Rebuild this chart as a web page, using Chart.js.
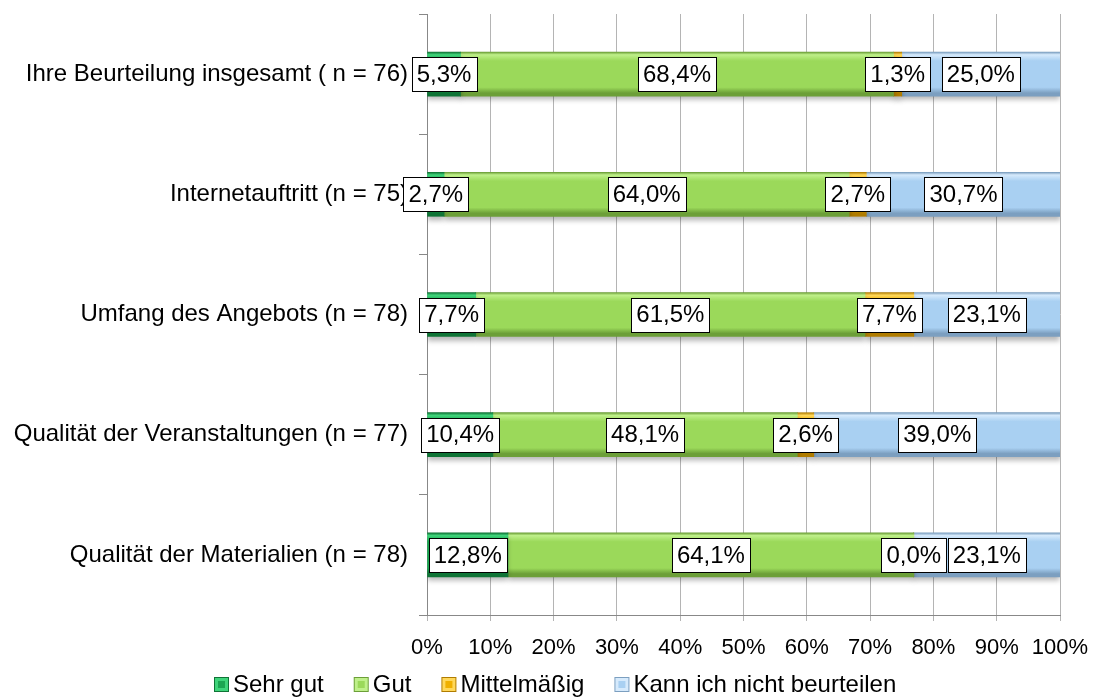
<!DOCTYPE html>
<html>
<head>
<meta charset="utf-8">
<script src="https://cdn.jsdelivr.net/npm/chart.js@4"></script>
<style>
html,body{margin:0;padding:0;background:#fff;}
#wrap{width:1093px;height:699px;position:relative;}
</style>
</head>
<body>
<div id="wrap"><canvas id="c" width="1093" height="699"></canvas></div>
<script>
const categories = [
  "Ihre Beurteilung insgesamt ( n = 76)",
  "Internetauftritt (n = 75)",
  "Umfang des Angebots (n = 78)",
  "Qualität der Veranstaltungen (n = 77)",
  "Qualität der Materialien (n = 78)"
];
const seriesNames = ["Sehr gut", "Gut", "Mittelmäßig", "Kann ich nicht beurteilen"];
const sehrGut = [5.3, 2.7, 7.7, 10.4, 12.8];
const gut = [68.4, 64.0, 61.5, 48.1, 64.1];
const mittel = [1.3, 2.7, 7.7, 2.6, 0.0];
const kann = [25.0, 30.7, 23.1, 39.0, 23.1];
const xTickValues = [0, 10, 20, 30, 40, 50, 60, 70, 80, 90, 100];

const palettes = [
  ["#3fd47a", "#1ca652", "#0f7436"],
  ["#bff08a", "#9bd95a", "#6c9f38"],
  ["#ffd85a", "#f0b000", "#b07c00"],
  ["#d6eafc", "#a9d0f2", "#7c9fc0"]
];
const FONT = "'Liberation Sans', Arial, sans-serif";

function gradFor(ci) {
  return function(ctx) {
    const chart = ctx.chart;
    const area = chart.chartArea;
    const p = palettes[ci];
    if (!area || ctx.type !== 'data') return p[1];
    const y = chart.scales.y.getPixelForValue(ctx.dataIndex);
    const h = 22;
    const g = chart.ctx.createLinearGradient(0, y - h, 0, y + h);
    g.addColorStop(0, p[2]);
    g.addColorStop(0.06, p[0]);
    g.addColorStop(0.2, p[1]);
    g.addColorStop(0.8, p[1]);
    g.addColorStop(0.93, p[2]);
    g.addColorStop(1, p[2]);
    return g;
  };
}

const seriesData = [sehrGut, gut, mittel, kann];
const datasets = seriesData.map((d, i) => ({
  label: seriesNames[i],
  data: d,
  backgroundColor: gradFor(i),
  borderWidth: 0,
  barThickness: 44
}));

const shadowPlugin = {
  id: 'barShadow',
  beforeDatasetsDraw(chart) {
    const ctx = chart.ctx;
    ctx.save();
    ctx.shadowColor = 'rgba(0,0,0,0.28)';
    ctx.shadowBlur = 5;
    ctx.shadowOffsetY = 4;
  },
  afterDatasetsDraw(chart) {
    chart.ctx.restore();
  }
};

const labelPlugin = {
  id: 'boxLabels',
  afterDatasetsDraw(chart) {
    const ctx = chart.ctx;
    ctx.save();
    ctx.shadowColor = 'transparent';
    ctx.font = "24px " + FONT;
    ctx.textBaseline = 'middle';
    ctx.textAlign = 'center';
    chart.data.datasets.forEach((ds, di) => {
      const meta = chart.getDatasetMeta(di);
      meta.data.forEach((el, i) => {
        const v = ds.data[i];
        const txt = v.toFixed(1).replace('.', ',') + '%';
        const cx = (el.x + el.base) / 2;
        const cy = el.y;
        const w = ctx.measureText(txt).width + 10;
        const h = 34;
        const bx = Math.round(cx - w / 2) + 0.5, by = Math.round(cy - h / 2) + 0.5;
        ctx.fillStyle = '#fff';
        ctx.fillRect(bx, by, Math.round(w), h);
        ctx.strokeStyle = '#000';
        ctx.lineWidth = 1;
        ctx.strokeRect(bx, by, Math.round(w), h);
        ctx.fillStyle = '#000';
        ctx.fillText(txt, cx, cy + 1);
      });
    });
    ctx.restore();
  }
};

// legend drawn from the chart's own dataset labels/colours
const legendPlugin = {
  id: 'bottomLegend',
  afterDraw(chart) {
    const ctx = chart.ctx;
    ctx.save();
    ctx.font = "24px " + FONT;
    ctx.textBaseline = 'middle';
    ctx.textAlign = 'left';
    const box = 15, gapBT = 4, gapItems = 30;
    const items = chart.data.datasets.map((ds, i) => ({ text: ds.label, p: palettes[i], w: ctx.measureText(ds.label).width }));
    const total = items.reduce((s, it) => s + box + gapBT + it.w, 0) + gapItems * (items.length - 1);
    let x = Math.round(555.5 - total / 2);
    const cy = 684;
    items.forEach(it => {
      const by = Math.round(cy - box / 2);
      ctx.fillStyle = it.p[2]; ctx.fillRect(x, by, box, box);
      ctx.fillStyle = it.p[0]; ctx.fillRect(x + 1, by + 1, box - 2, box - 2);
      ctx.fillStyle = it.p[1]; ctx.fillRect(x + 4, by + 4, box - 8, box - 8);
      ctx.fillStyle = '#000';
      ctx.fillText(it.text, x + box + gapBT, cy + 1);
      x += box + gapBT + it.w + gapItems;
    });
    ctx.restore();
  }
};

new Chart(document.getElementById('c'), {
  type: 'bar',
  data: { labels: categories, datasets },
  options: {
    indexAxis: 'y',
    responsive: false,
    animation: false,
    layout: { padding: { left: 0, right: 0, top: 0, bottom: 32 } },
    scales: {
      x: {
        stacked: true,
        min: 0, max: 100,
        afterBuildTicks(scale) { scale.ticks = xTickValues.map(v => ({ value: v })); },
        afterFit(scale) { scale.height = 52; scale.paddingRight = 33; scale.paddingLeft = 0; },
        grid: { color: '#b4b4b4', lineWidth: 1, tickLength: 6, drawTicks: true },
        border: { color: '#888', width: 1 },
        ticks: { color: '#000', font: { size: 22, family: FONT }, padding: 14,
          callback: v => v + '%' }
      },
      y: {
        stacked: true,
        afterFit(scale) { scale.width = 427; scale.paddingTop = 14; scale.paddingBottom = 0; },
        grid: { offset: true, drawOnChartArea: false, color: '#888', tickLength: 8 },
        border: { color: '#888', width: 1 },
        ticks: { color: '#000', font: { size: 24, family: FONT }, padding: 11 }
      }
    },
    plugins: {
      legend: { display: false },
      tooltip: { enabled: false }
    }
  },
  plugins: [shadowPlugin, labelPlugin, legendPlugin]
});
</script>
</body>
</html>
